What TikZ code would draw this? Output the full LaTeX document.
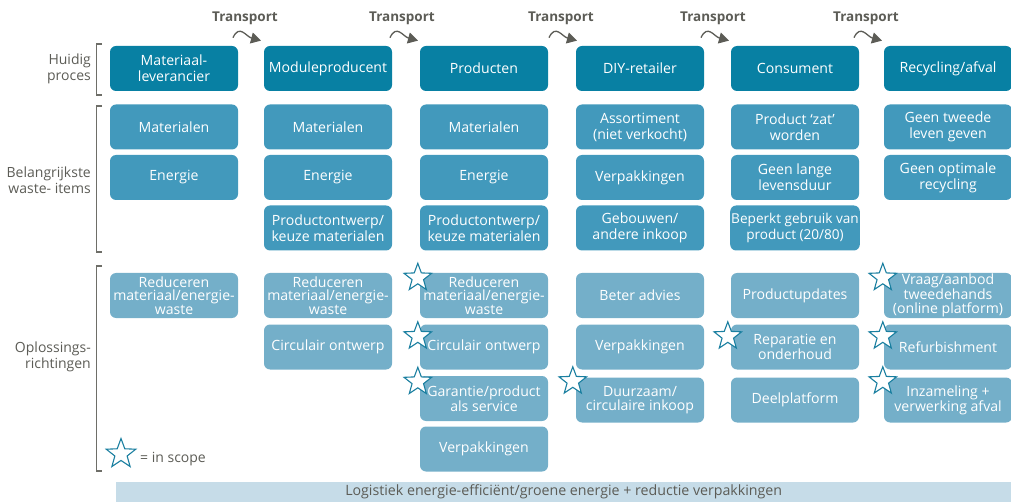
\documentclass[tikz,border=0pt]{standalone}
\usepackage{fontspec}
\setmainfont{Open Sans}
\usetikzlibrary{shapes.geometric,arrows.meta}

\definecolor{headblue}{RGB}{8,128,163}
\definecolor{wasteblue}{RGB}{66,153,188}
\definecolor{oplblue}{RGB}{116,175,201}
\definecolor{barblue}{RGB}{198,220,232}
\definecolor{txtgray}{RGB}{92,92,86}
\definecolor{brgray}{RGB}{110,110,104}
\definecolor{starteal}{RGB}{26,127,160}

\tikzset{
	box/.style={rounded corners=6pt, minimum width=128pt, minimum height=45pt,
		text=white, align=center, inner sep=1pt, font=\fontsize{14.1}{16}\selectfont},
	head/.style={box, fill=headblue},
	waste/.style={box, fill=wasteblue},
	opl/.style={box, fill=oplblue, font=\fontsize{14.1}{13.6}\selectfont},
	rowlabel/.style={anchor=east, align=right, text=txtgray, inner sep=0pt,
		font=\fontsize{14}{16}\selectfont},
	trans/.style={text=txtgray, inner sep=0pt, font=\fontsize{13.5}{16}\selectfont\bfseries},
	tarrow/.style={draw=txtgray, line width=1.3pt, -{Triangle[length=10pt,width=11pt]}},
	bracket/.style={draw=brgray, line width=1.2pt},
	inscope/.style={star, star points=5, star point ratio=2.4, minimum size=29pt,
		inner sep=0pt, draw=starteal, fill=white, line width=1.1pt},
}

\begin{document}
\begin{tikzpicture}[x=1pt,y=-1pt]
	\useasboundingbox (0,0) rectangle (1011,502);

	% row labels and brackets
	\node[rowlabel] (lhuidig) at (91,69) {Huidig\\proces};
	\node[rowlabel] (lwaste) at (91,180.5) {Belangrijkste\\waste- items};
	\node[rowlabel] (lopl) at (91,356.5) {Oplossings-\\richtingen};
	\draw[bracket] (102,44) -- (96.5,44) -- (96.5,95) -- (102,95);
	\draw[bracket] (102,106) -- (96.5,106) -- (96.5,252) -- (102,252);
	\draw[bracket] (102,266) -- (96.5,266) -- (96.5,471) -- (102,471);

	% huidig proces
	\node[head] (h1) at (174,68.5) {Materiaal-\\leverancier};
	\node[head] (h2) at (328,68.5) {Moduleproducent};
	\node[head] (h3) at (484,68.5) {Producten};
	\node[head] (h4) at (640,68.5) {DIY-retailer};
	\node[head] (h5) at (795,68.5) {Consument};
	\node[head] (h6) at (948,68.5) {Recycling/afval};

	% transport tussen de stappen
	\foreach \x [count=\i] in {245,402,561,713,866}{
		\node[trans] (t\i) at (\x,18) {Transport};
		\draw[tarrow] ([shift={(-12,13)}]t\i.south) to[out=65,in=165,looseness=1.4] ([shift={(16,16)}]t\i.south);
	}

	% waste items
	\node[waste] (w11) at (174,127) {Materialen};
	\node[waste] (w12) at (174,177.5) {Energie};
	\node[waste] (w21) at (328,127) {Materialen};
	\node[waste] (w22) at (328,177.5) {Energie};
	\node[waste] (w23) at (328,228) {Productontwerp/\\keuze materialen};
	\node[waste] (w31) at (484,127) {Materialen};
	\node[waste] (w32) at (484,177.5) {Energie};
	\node[waste] (w33) at (484,228) {Productontwerp/\\keuze materialen};
	\node[waste] (w41) at (640,127) {Assortiment\\(niet verkocht)};
	\node[waste] (w42) at (640,177.5) {Verpakkingen};
	\node[waste] (w43) at (640,228) {Gebouwen/\\andere inkoop};
	\node[waste] (w51) at (795,127) {Product ‘zat’\\worden};
	\node[waste] (w52) at (795,177.5) {Geen lange\\levensduur};
	\node[waste, font=\fontsize{13.6}{16}\selectfont] (w53) at (795,228) {Beperkt gebruik van\\product (20/80)};
	\node[waste] (w61) at (948,127) {Geen tweede\\leven geven};
	\node[waste] (w62) at (948,177.5) {Geen optimale\\recycling};

	% oplossingsrichtingen
	\node[opl] (o11) at (174,295.5) {Reduceren\\materiaal/energie-\\waste};
	\node[opl] (o21) at (328,295.5) {Reduceren\\materiaal/energie-\\waste};
	\node[opl] (o22) at (328,347) {Circulair ontwerp};
	\node[opl] (o31) at (484,295.5) {Reduceren\\materiaal/energie-\\waste};
	\node[opl] (o32) at (484,347) {Circulair ontwerp};
	\node[opl] (o33) at (484,398.5) {Garantie/product\\als service};
	\node[opl] (o34) at (484,449) {Verpakkingen};
	\node[opl] (o41) at (640,295.5) {Beter advies};
	\node[opl] (o42) at (640,347) {Verpakkingen};
	\node[opl] (o43) at (640,400) {Duurzaam/\\circulaire inkoop};
	\node[opl] (o51) at (795,295.5) {Productupdates};
	\node[opl] (o52) at (795,347) {Reparatie en\\onderhoud};
	\node[opl] (o53) at (795,400) {Deelplatform};
	\node[opl] (o61) at (948,295.5) {Vraag/aanbod\\tweedehands\\(online platform)};
	\node[opl] (o62) at (948,347) {Refurbishment};
	\node[opl] (o63) at (948,400) {Inzameling +\\verwerking afval};

	% sterren: in scope
	\node[inscope] (s31) at ([shift={(-2,5)}]o31.north west) {};
	\node[inscope] (s32) at ([shift={(-2,12)}]o32.north west) {};
	\node[inscope] (s33) at ([shift={(-2,6)}]o33.north west) {};
	\node[inscope] (s43) at ([shift={(-3,4)}]o43.north west) {};
	\node[inscope] (s52) at ([shift={(-3,12)}]o52.north west) {};
	\node[inscope] (s61) at ([shift={(-1,5)}]o61.north west) {};
	\node[inscope] (s62) at ([shift={(-1,12)}]o62.north west) {};
	\node[inscope] (s63) at ([shift={(-1,4)}]o63.north west) {};

	% legenda
	\node[inscope, minimum size=31pt] (legstar) at (121,454) {};
	\node[anchor=west, text=txtgray, inner sep=0pt, font=\fontsize{14}{16}\selectfont]
		(legtext) at (140,459) {= in scope};

	% logistiek balk
	\node[fill=barblue, minimum width=895pt, minimum height=20pt, inner sep=0pt,
		text=txtgray, font=\fontsize{14.2}{15}\selectfont, anchor=north west]
		(logistiek) at (116,482) {Logistiek energie-efficiënt/groene energie + reductie verpakkingen};
\end{tikzpicture}
\end{document}
